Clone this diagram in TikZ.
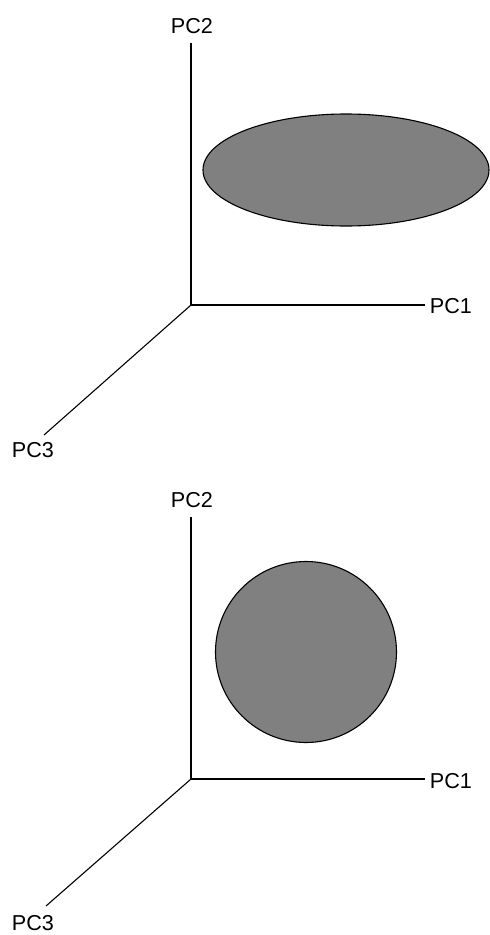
\documentclass[tikz,border=0pt]{standalone}
\usepackage{fontspec}
\setmainfont{Liberation Sans}
\usetikzlibrary{shapes.geometric}
\begin{document}
\begin{tikzpicture}[x=1pt,y=-1pt,
  axis/.style={line width=1.1pt,black},
  axlabel/.style={font=\fontsize{21.6}{24}\selectfont,inner sep=0pt},
  blob/.style={draw=black,line width=1.1pt,fill=gray}]
\useasboundingbox (0,0) rectangle (490,935);

% upper panel: elongated cloud
\coordinate (o1) at (191,305);
\coordinate (y1) at (191,43);
\coordinate (x1) at (425,305);
\coordinate (z1) at (44,435);
\draw[axis] (y1) -- (o1) -- (x1);
\draw[axis] (o1) -- (z1);
\node[axlabel] (pc2a) at (192,26) {PC2};
\node[axlabel] (pc1a) at (451,306) {PC1};
\node[axlabel] (pc3a) at (33,450) {PC3};
\node[blob,ellipse,minimum width=286pt,minimum height=112pt,inner sep=0pt] (cloud1) at (346,170) {};

% lower panel: round cloud
\coordinate (o2) at (191,779);
\coordinate (y2) at (191,517);
\coordinate (x2) at (425,779);
\coordinate (z2) at (46,906);
\draw[axis] (y2) -- (o2) -- (x2);
\draw[axis] (o2) -- (z2);
\node[axlabel] (pc2b) at (192,500) {PC2};
\node[axlabel] (pc1b) at (451,781) {PC1};
\node[axlabel] (pc3b) at (33,923) {PC3};
\node[blob,circle,minimum size=181pt,inner sep=0pt] (cloud2) at (306,652) {};
\end{tikzpicture}
\end{document}
